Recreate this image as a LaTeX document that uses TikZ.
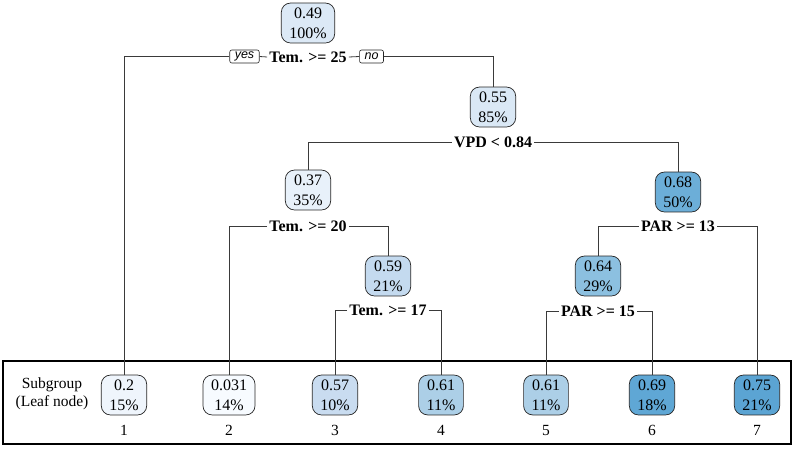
\documentclass[tikz,border=0pt]{standalone}
\usepackage{fontspec}
\setmainfont{Liberation Serif}
\setsansfont{Liberation Sans}
\usetikzlibrary{positioning}
\definecolor{edgegray}{HTML}{3A3A3A}
\definecolor{c031}{HTML}{F7FBFF}
\definecolor{c020}{HTML}{EFF5FC}
\definecolor{c037}{HTML}{E8F1FA}
\definecolor{c049}{HTML}{DCE9F6}
\definecolor{c055}{HTML}{DAE8F5}
\definecolor{c057}{HTML}{C9DCF0}
\definecolor{c059}{HTML}{C4DAEF}
\definecolor{c061}{HTML}{ACCFE7}
\definecolor{c064}{HTML}{8CC0E0}
\definecolor{c068}{HTML}{6CAED8}
\definecolor{c069}{HTML}{5FA7D5}
\definecolor{c075}{HTML}{5BA4D3}
\tikzset{
  box/.style={draw=black!85, line width=0.7pt, rounded corners=9pt, align=center,
    inner xsep=8pt, inner ysep=4.5pt, font=\fontsize{16}{20}\selectfont},
  split/.style={font=\fontsize{16}{19}\selectfont\bfseries, inner xsep=2pt, inner ysep=1pt},
  yesno/.style={draw=black!85, line width=0.6pt, rounded corners=2pt, inner xsep=5pt,
    inner ysep=1pt, minimum height=13pt, font=\sffamily\itshape\fontsize{12.5}{14}\selectfont},
  link/.style={draw=edgegray, line width=0.8pt},
}

\begin{document}
\begin{tikzpicture}[x=1pt, y=-1pt]
  \useasboundingbox (0,0) rectangle (795,448);
  % leaf frame
  \draw[line width=1.3pt] (3,361) rectangle (791,444);
  \node[align=center, font=\fontsize{15.5}{18}\selectfont] (sub) at (52,394) {Subgroup\\(Leaf node)};

  % inner nodes
  \node[box, fill=c049] (root) at (308,23) {0.49\\100\%};
  \node[split] (s1) at (308,57) {Tem. >= 25};
  \node[yesno] (yes) at (244.5,56.5) {yes};
  \node[yesno] (no) at (371.5,56.5) {no};
  \node[box, fill=c055] (n2) at (493,107) {0.55\\85\%};
  \node[split] (s2) at (493,142) {VPD < 0.84};
  \node[box, fill=c037] (n3) at (308,190) {0.37\\35\%};
  \node[split] (s3) at (308,226) {Tem. >= 20};
  \node[box, fill=c059] (n4) at (388,276) {0.59\\21\%};
  \node[split] (s4) at (388,310) {Tem. >= 17};
  \node[box, fill=c068] (n5) at (678,192) {0.68\\50\%};
  \node[split] (s5) at (678,226) {PAR >= 13};
  \node[box, fill=c064] (n6) at (598,276) {0.64\\29\%};
  \node[split] (s6) at (598,311) {PAR >= 15};

  % leaves
  \foreach \i/\x/\v/\p/\c in {1/124/0.2/15/c020, 2/229/0.031/14/c031, 3/335/0.57/10/c057,
      4/441/0.61/11/c061, 5/546/0.61/11/c061, 6/652/0.69/18/c069, 7/757/0.75/21/c075} {
    \node[box, fill=\c] (l\i) at (\x,395) {\v\\\p\%};
    \node[font=\fontsize{15.5}{18}\selectfont] (k\i) at (\x,430) {\i};
  }

  % edges
  \draw[link] (s1.west) -- (yes.east);
  \draw[link] (yes.west) -| (l1.north);
  \draw[link] (s1.east) -- (no.west);
  \draw[link] (no.east) -| (n2.north);
  \draw[link] (s2.west) -| (n3.north);
  \draw[link] (s2.east) -| (n5.north);
  \draw[link] (s3.west) -| (l2.north);
  \draw[link] (s3.east) -| (n4.north);
  \draw[link] (s4.west) -| (l3.north);
  \draw[link] (s4.east) -| (l4.north);
  \draw[link] (s5.west) -| (n6.north);
  \draw[link] (s5.east) -| (l7.north);
  \draw[link] (s6.west) -| (l5.north);
  \draw[link] (s6.east) -| (l6.north);
\end{tikzpicture}
\end{document}
